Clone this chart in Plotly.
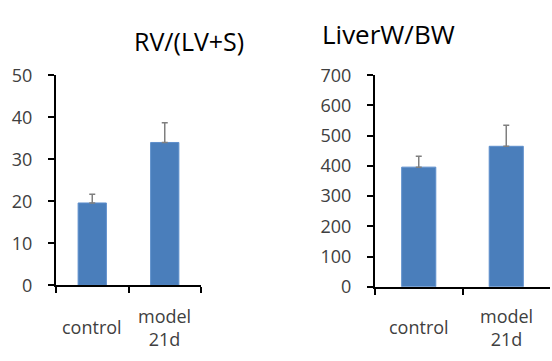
import plotly.graph_objects as go

categories = ["control", "model 21d"]
tick_labels = ["control", "model<br>21d"]

rv_values = [19.6, 34.0]
rv_err = [2.1, 4.7]

liver_values = [396, 465]
liver_err = [36, 70]

titles = ["RV/(LV+S)", "LiverW/BW"]

BAR = "#4A7EBB"
TXT = "#404040"
FONT = "Open Sans, sans-serif"

fig = go.Figure()

fig.add_trace(go.Bar(
    x=categories, y=rv_values, xaxis="x", yaxis="y",
    marker=dict(color=BAR, line=dict(color="#5E8FCC", width=1)),
    error_y=dict(type="data", array=rv_err, arrayminus=[0, 0], symmetric=False,
                 color="#7F7F7F", thickness=1.5, width=3),
    showlegend=False))
fig.add_trace(go.Bar(
    x=categories, y=liver_values, xaxis="x2", yaxis="y2",
    marker=dict(color=BAR, line=dict(color="#5E8FCC", width=1)),
    error_y=dict(type="data", array=liver_err, arrayminus=[0, 0], symmetric=False,
                 color="#7F7F7F", thickness=1.5, width=3),
    showlegend=False))

xcommon = dict(showline=True, linecolor="black", linewidth=2, ticks="outside",
               ticklen=6, tickwidth=2, tickcolor="black", tickson="boundaries",
               showticklabels=False, showgrid=False, zeroline=False,
               range=[-0.5, 1.5], fixedrange=True)
ycommon = dict(showline=True, linecolor="black", linewidth=2, ticks="outside",
               ticklen=6, tickwidth=2, tickcolor="black", showgrid=False,
               zeroline=False, tickfont=dict(family=FONT, size=18, color=TXT),
               ticklabelstandoff=12, fixedrange=True)

fig.update_layout(
    width=552, height=361,
    margin=dict(l=0, r=0, t=0, b=0),
    plot_bgcolor="white", paper_bgcolor="white",
    bargap=0.61,
    xaxis=dict(domain=[56/552, 201/552], anchor="y", **xcommon),
    yaxis=dict(domain=[1-291.7/361, 1-66.7/361], anchor="x", range=[0, 50], dtick=10, **ycommon),
    xaxis2=dict(domain=[375/552, 550/552], anchor="y2", **xcommon),
    yaxis2=dict(domain=[1-293.3/361, 1-66.7/361], anchor="x2", range=[0, 700], dtick=100, **ycommon),
)

annotations = []
for xa in ["x", "x2"]:
    for c, lab in zip(categories, tick_labels):
        annotations.append(dict(x=c, xref=xa, y=1-336.5/361, yref="paper",
                                text=lab, showarrow=False, yanchor="middle",
                                xanchor="center",
                                font=dict(family=FONT, size=18, color=TXT)))
annotations.append(dict(x=131.7/552, xref="paper", y=1-29.5/361, yref="paper",
                        text=titles[0], showarrow=False, yanchor="middle",
                        font=dict(family=FONT, size=25, color="black")))
annotations.append(dict(x=457/552, xref="paper", y=1-22.5/361, yref="paper",
                        text=titles[1], showarrow=False, yanchor="middle",
                        font=dict(family=FONT, size=26, color="black")))
fig.update_layout(annotations=annotations)

fig.write_html("out.html", config={"displayModeBar": False},
               post_script="document.body.style.margin='0';document.body.style.overflow='hidden';")
